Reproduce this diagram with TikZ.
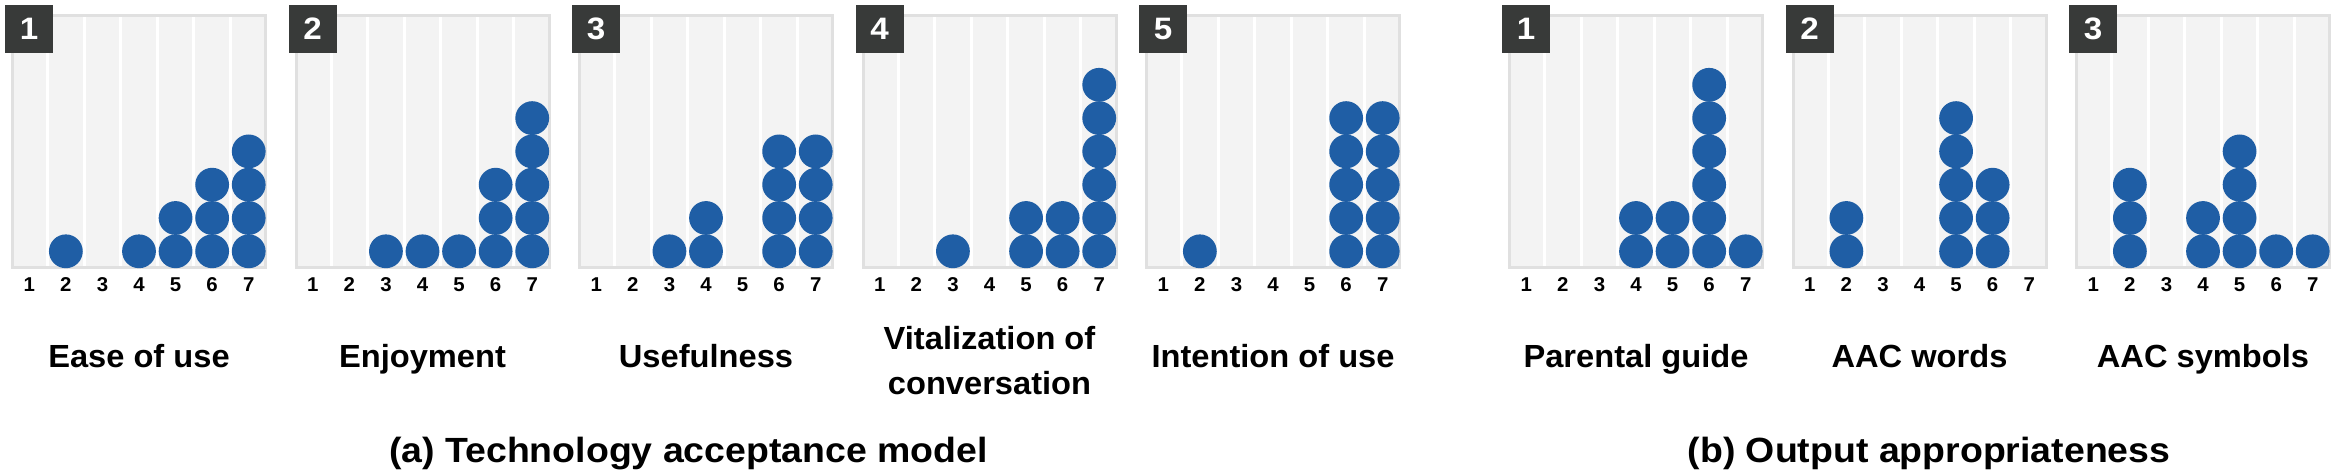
\documentclass[tikz,border=0pt]{standalone}
\usepackage{fontspec}
\setmainfont{Liberation Sans}[FakeStretch=1.07]
\newfontfamily\medfont{Liberation Sans}[FakeStretch=1.02]
\definecolor{panelfill}{HTML}{F3F3F3}
\definecolor{panelline}{HTML}{E0E0E0}
\definecolor{badgegray}{HTML}{383A39}
\definecolor{dotblue}{HTML}{1F5EA5}
\tikzset{
  panelbox/.style={draw=panelline, fill=panelfill, line width=3pt},
  sepline/.style={draw=white, line width=3pt},
  dotmark/.style={fill=dotblue},
  badgebox/.style={fill=badgegray},
  badgenum/.style={text=white, font=\fontsize{31}{31}\selectfont\bfseries, inner sep=0pt},
  ticknum/.style={font=\medfont\bfseries\fontsize{20}{20}\selectfont, inner sep=0pt},
  itemtext/.style={font=\medfont\bfseries\fontsize{32}{45}\selectfont, align=center, inner sep=0pt, anchor=base},
  subtitle/.style={font=\fontsize{35}{35}\selectfont\bfseries, inner sep=0pt, anchor=base},
}
\begin{document}
\begin{tikzpicture}[x=1pt, y=-1pt]
\useasboundingbox (0,0) rectangle (2339,473);
\foreach \L/\n/\stacks/\ty/\txt [count=\i] in {
  11/1/{2/1,4/1,5/2,6/3,7/4}/367/{Ease of use},
  294.5/2/{3/1,4/1,5/1,6/3,7/5}/367/{Enjoyment},
  578/3/{3/1,4/2,6/4,7/4}/367/{Usefulness},
  861.5/4/{3/1,5/2,6/2,7/6}/394/{Vitalization of\\conversation},
  1145/5/{2/1,6/5,7/5}/367/{Intention of use},
  1508/1/{4/2,5/2,6/6,7/1}/367/{Parental guide},
  1791.5/2/{2/2,5/5,6/3}/367/{AAC words},
  2075/3/{2/3,4/2,5/4,6/1,7/1}/367/{AAC symbols}}{
  \draw[panelbox] (\L+1.5,15.5) rectangle (\L+254.5,267.5);
  \foreach \k in {1,...,6}
    \draw[sepline] ({\L+256/7*\k},17) -- ({\L+256/7*\k},266);
  \foreach \col/\h in \stacks
    \foreach \r in {1,...,\h}
      \fill[dotmark] ({\L+256/7*(\col-0.5)},{251.3-33.3*(\r-1)}) circle[radius=16.9];
  \fill[badgebox] (\L-6,5) rectangle (\L+42,53);
  \node[badgenum] (num\i) at (\L+18,29) {\n};
  \foreach \k in {1,...,7}
    \node[ticknum] (tick\i-\k) at ({\L+256/7*(\k-0.5)},285) {\k};
  \node[itemtext] (item\i) at (\L+128,\ty) {\txt};
}
\node[subtitle] (tam) at (688.5,462) {(a) Technology acceptance model};
\node[subtitle] (oa) at (1929,462) {(b) Output appropriateness};
\end{tikzpicture}
\end{document}
